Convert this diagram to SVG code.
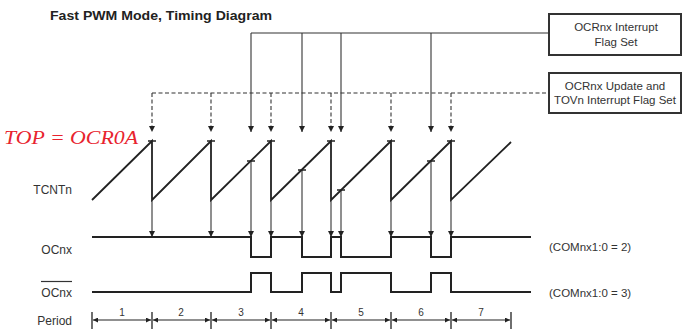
<svg xmlns="http://www.w3.org/2000/svg" width="682" height="332" viewBox="0 0 682 332">
<style>
text{font-family:"Liberation Sans",Arial,sans-serif;fill:#333}
.lbl{font-size:12px;text-anchor:end}
.box{fill:#fff;stroke:#333;stroke-width:2}
.bt{font-size:11.5px;text-anchor:middle}
.com{font-size:11.5px}
.sig{fill:none;stroke:#222;stroke-width:2}
.saw{fill:none;stroke:#222;stroke-width:1.8;stroke-linejoin:miter}
.tick{stroke:#222;stroke-width:1.3}
.con{fill:none;stroke:#333;stroke-width:1.1}
.dash{stroke-dasharray:4 2.5}
.arr{marker-end:url(#ah)}
.per{fill:none;stroke:#222;stroke-width:1.1;marker-start:url(#pa);marker-end:url(#pa)}
.num{font-size:10px;text-anchor:middle}
</style>
<defs>
<marker id="ah" viewBox="0 0 10 10" refX="10" refY="5" markerWidth="9" markerHeight="6" markerUnits="userSpaceOnUse" orient="auto"><path d="M0,0 L10,5 L0,10 z" fill="#222"/></marker>
<marker id="pa" viewBox="0 0 10 10" refX="10" refY="5" markerWidth="8" markerHeight="5" markerUnits="userSpaceOnUse" orient="auto-start-reverse"><path d="M0,0 L10,5 L0,10 z" fill="#222"/></marker>
</defs>

<g id="title"><text x="50" y="20" style="font-size:13px;font-weight:bold;fill:#222" textLength="222" lengthAdjust="spacingAndGlyphs">Fast PWM Mode, Timing Diagram</text></g>

<g id="top-label"><text x="4" y="144" style="font-family:'Liberation Serif',serif;font-style:italic;font-size:18px;fill:#e8232e" textLength="134" lengthAdjust="spacingAndGlyphs">TOP = OCR0A</text></g>

<g id="box-ocf">
<rect class="box" x="549" y="14" width="132" height="41"/>
<text class="bt" x="616" y="31">OCRnx Interrupt</text>
<text class="bt" x="616" y="46">Flag Set</text>
</g>
<g id="box-tov">
<rect class="box" x="549" y="73" width="132" height="40"/>
<text class="bt" x="615" y="90">OCRnx Update and</text>
<text class="bt" x="615" y="104">TOVn Interrupt Flag Set</text>
</g>

<g id="connectors">
<path class="con" d="M251,33 H549"/>
<path class="con dash" d="M152,93 H549"/>
<path class="con arr" d="M251,33 V132"/>
<path class="con arr" d="M302,33 V132"/>
<path class="con arr" d="M341,33 V132"/>
<path class="con arr" d="M431,33 V132"/>
<path class="con dash arr" d="M152,93 V132"/>
<path class="con dash arr" d="M211,93 V132"/>
<path class="con dash arr" d="M271,93 V132"/>
<path class="con dash arr" d="M331,93 V132"/>
<path class="con dash arr" d="M391,93 V132"/>
<path class="con dash arr" d="M451,93 V132"/>
<path class="con arr" d="M152,200 V237"/>
<path class="con arr" d="M211,200 V237"/>
<path class="con arr" d="M271,200 V237"/>
<path class="con arr" d="M331,200 V237"/>
<path class="con arr" d="M391,200 V237"/>
<path class="con arr" d="M451,200 V237"/>
<path class="con arr" d="M251,161 V237"/>
<path class="con arr" d="M302,170 V237"/>
<path class="con arr" d="M341,190 V237"/>
<path class="con arr" d="M431,161 V237"/>
</g>

<g id="tcnt">
<text class="lbl" x="72" y="194">TCNTn</text>
<path class="saw" d="M92,200 L152,141 V200 L211,141 V200 L271,141 V200 L331,141 V200 L391,141 V200 L451,141 V200 L511,142"/>
<path class="tick" d="M148,141 H156 M207,141 H215 M267,141 H275 M327,141 H335 M387,141 H395 M447,141 H455 M247,161 H255 M298,170 H306 M337,190 H345 M427,161 H435"/>
</g>

<g id="ocnx">
<text class="lbl" x="72" y="254">OCnx</text>
<path class="sig" d="M92,237 H251 V257 H271 V237 H302 V257 H331 V237 H341 V257 H391 V237 H431 V257 H451 V237 H531"/>
<text class="com" x="549" y="251">(COMnx1:0 = 2)</text>
</g>

<g id="ocnx-bar">
<text class="lbl" x="72" y="297">OCnx</text>
<path d="M41,281.5 H72" stroke="#333" stroke-width="1.2"/>
<path class="sig" d="M92,292 H251 V273 H271 V292 H302 V273 H331 V292 H341 V273 H391 V292 H431 V273 H451 V292 H531"/>
<text class="com" x="549" y="297">(COMnx1:0 = 3)</text>
</g>

<g id="period">
<text class="lbl" x="72" y="325">Period</text>
<path class="tick" d="M92,312 V329 M152,312 V329 M211,312 V329 M271,312 V329 M331,312 V329 M391,312 V329 M451,312 V329 M511,312 V329"/>
<path class="per" d="M93,320 H151"/><text class="num" x="122" y="316">1</text>
<path class="per" d="M153,320 H210"/><text class="num" x="181" y="316">2</text>
<path class="per" d="M212,320 H270"/><text class="num" x="241" y="316">3</text>
<path class="per" d="M272,320 H330"/><text class="num" x="301" y="316">4</text>
<path class="per" d="M332,320 H390"/><text class="num" x="361" y="316">5</text>
<path class="per" d="M392,320 H450"/><text class="num" x="421" y="316">6</text>
<path class="per" d="M452,320 H510"/><text class="num" x="481" y="316">7</text>
</g>
</svg>
